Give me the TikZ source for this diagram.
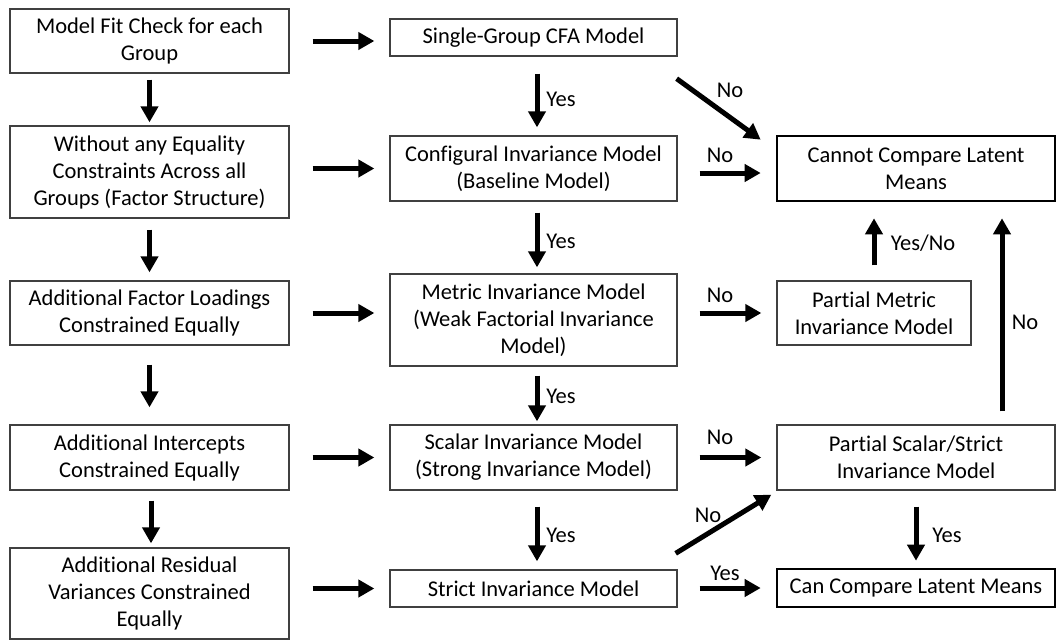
\documentclass[tikz,border=0pt]{standalone}
\usepackage{fontspec}
\setmainfont{Carlito}[Ligatures=NoCommon]
\usetikzlibrary{arrows.meta,calc}
\begin{document}
\begin{tikzpicture}[x=1pt,y=-1pt,
  box/.style={draw=black!75,line width=1.3pt,align=center,inner sep=0pt,
    font=\fontsize{22.5}{27}\selectfont},
  tbox/.style={box,draw=black,line width=2.6pt},
  arr/.style={line width=5pt,-{Triangle[length=16pt,width=17pt]}},
  lbl/.style={font=\fontsize{22.5}{27}\selectfont,inner sep=0pt}]
\useasboundingbox (0,0) rectangle (1060,641);
% left column
\node[box,minimum width=279pt,minimum height=64pt] (A1) at (149.5,41) {Model Fit Check for each\\Group};
\node[box,minimum width=279pt,minimum height=92pt] (A2) at (149.5,172) {Without any Equality\\Constraints Across all\\Groups (Factor Structure)};
\node[box,minimum width=279pt,minimum height=64pt] (A3) at (149.5,313) {Additional Factor Loadings\\Constrained Equally};
\node[box,minimum width=279pt,minimum height=65pt] (A4) at (149.5,457.5) {Additional Intercepts\\Constrained Equally};
\node[box,minimum width=279pt,minimum height=91pt] (A5) at (149.5,593.5) {Additional Residual\\Variances Constrained\\Equally};
% middle column
\node[box,minimum width=287pt,minimum height=37pt] (B1) at (533.5,37.5) {Single-Group CFA Model};
\node[box,minimum width=287pt,minimum height=65pt] (B2) at (533.5,168.5) {Configural Invariance Model\\(Baseline Model)};
\node[box,minimum width=287pt,minimum height=92pt] (B3) at (533.5,320) {Metric Invariance Model\\(Weak Factorial Invariance\\Model)};
\node[box,minimum width=287pt,minimum height=65pt] (B4) at (533.5,457.5) {Scalar Invariance Model\\(Strong Invariance Model)};
\node[box,minimum width=287pt,minimum height=37pt] (B5) at (533.5,588.5) {Strict Invariance Model};
% right column
\node[tbox,minimum width=278pt,minimum height=65pt] (C1) at (916,168.5) {Cannot Compare Latent\\Means};
\node[box,minimum width=194pt,minimum height=64pt] (C2) at (874,313) {Partial Metric\\Invariance Model};
\node[box,minimum width=278pt,minimum height=65pt] (C3) at (916,457.5) {Partial Scalar/Strict\\Invariance Model};
\node[tbox,minimum width=278pt,minimum height=38pt] (C4) at (916,588) {Can Compare Latent Means};
% left vertical arrows
\draw[arr,shorten <=6pt,shorten >=3pt] (A1.south) -- (A2.north);
\draw[arr,shorten <=11pt,shorten >=8pt] (A2.south) -- (A3.north);
\draw[arr,shorten <=19pt,shorten >=17pt] (A3.south) -- (A4.north);
\draw[arr,shorten <=10pt,shorten >=4pt] ([xshift=1.5pt]A4.south) -- ([xshift=1.5pt]A5.north);
% left to middle
\draw[arr,shorten <=23pt,shorten >=15pt] (A1.east) -- (A1 -| B1.west);
\draw[arr,shorten <=23pt,shorten >=15pt] (A2.east |- B2) -- (B2.west);
\draw[arr,shorten <=23pt,shorten >=15pt] (A3.east) -- (A3 -| B3.west);
\draw[arr,shorten <=23pt,shorten >=15pt] (A4.east) -- (B4.west);
\draw[arr,shorten <=23pt,shorten >=15pt] (A5.east |- B5) -- (B5.west);
% middle vertical arrows
\draw[arr,shorten <=17pt,shorten >=8pt] ([xshift=3.5pt]B1.south) -- ([xshift=3.5pt]B2.north);
\draw[arr,shorten <=11pt,shorten >=6pt] ([xshift=3.5pt]B2.south) -- ([xshift=3.5pt]B3.north);
\draw[arr,shorten <=9pt,shorten >=3pt] ([xshift=3.5pt]B3.south) -- ([xshift=3.5pt]B4.north);
\draw[arr,shorten <=16pt,shorten >=8pt] ([xshift=3.5pt]B4.south) -- ([xshift=3.5pt]B5.north);
\node[lbl] (y1) at (561,99) {Yes};
\node[lbl] (y2) at (561,241) {Yes};
\node[lbl] (y3) at (561,396) {Yes};
\node[lbl] (y4) at (561,535) {Yes};
% middle to right
\draw[arr,shorten <=22pt,shorten >=15pt] ([yshift=-4.5pt]B2.east) -- ([yshift=-4.5pt]C1.west);
\draw[arr,shorten <=22pt,shorten >=15pt] (B3.east |- C2) -- (C2.west);
\draw[arr,shorten <=22pt,shorten >=15pt] (B4.east) -- (C3.west);
\draw[arr,shorten <=22pt,shorten >=15pt] (B5.east |- C4) -- (C4.west);
\node[lbl] (n1) at (720,155) {No};
\node[lbl] (n2) at (720,295) {No};
\node[lbl] (n3) at (720,437) {No};
\node[lbl] (y5) at (725,573) {Yes};
% diagonals
\draw[arr] ([shift={(-1,22)}]B1.south east) -- ([shift={(-15,5)}]C1.north west);
\node[lbl] (n4) at (730,90) {No};
\draw[arr] ([shift={(-2,-16)}]B5.north east) -- ([shift={(-5,4)}]C3.south west);
\node[lbl] (n5) at (708,515) {No};
% right column arrows
\draw[arr,shorten <=15pt,shorten >=16pt] (C2.north) -- (C2.north |- C1.south);
\node[lbl] (yn) at (923,243) {Yes/No};
\draw[arr,shorten <=13pt,shorten >=16pt] ([xshift=86pt]C3.north) -- ([xshift=86pt]C1.south);
\node[lbl] (n6) at (1025,322) {No};
\draw[arr,shorten <=16pt,shorten >=7pt] (C3.south) -- (C4.north);
\node[lbl] (y6) at (947,535) {Yes};
\end{tikzpicture}
\end{document}
